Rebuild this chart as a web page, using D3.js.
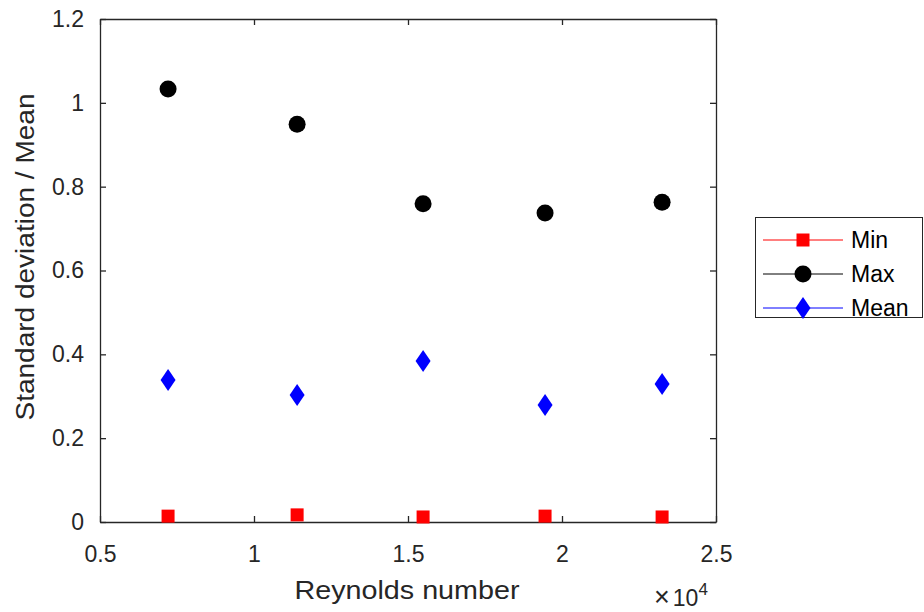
<!DOCTYPE html>
<html>
<head>
<script src="https://d3js.org/d3.v7.min.js"></script>
<style>
body { margin: 0; background: #fff; }
text { font-family: "Liberation Sans", Arial, sans-serif; }
</style>
</head>
<body>
<svg width="924" height="612"></svg>
<script>
// Reynolds number (x1e4) and std/mean values
var reynolds = [0.721, 1.14, 1.549, 1.945, 2.325];
var minVals = [0.014, 0.017, 0.012, 0.014, 0.012];
var maxVals = [1.033, 0.949, 0.759, 0.737, 0.763];
var meanVals = [0.339, 0.303, 0.384, 0.279, 0.329];
var xTicks = [0.5, 1, 1.5, 2, 2.5];
var yTicks = [0, 0.2, 0.4, 0.6, 0.8, 1, 1.2];

var svg = d3.select("svg");
var pLeft = 100, pRight = 716, pTop = 19, pBottom = 522;
var axisColor = "#262626";

var x = d3.scaleLinear().domain([0.5, 2.5]).range([pLeft, pRight]);
var y = d3.scaleLinear().domain([0, 1.2]).range([pBottom, pTop]);

function styleAxis(g, hideText) {
  g.selectAll("path").attr("stroke", axisColor).attr("stroke-width", 1.3);
  g.selectAll("line").attr("stroke", axisColor).attr("stroke-width", 1.3);
  g.selectAll("text").attr("fill", axisColor).style("font-size", "23px");
  if (hideText) g.selectAll("text").remove();
}

var fmt = function(d){ return d3.format("")(d); };

svg.append("g").attr("transform", "translate(0," + pBottom + ")")
  .call(d3.axisBottom(x).tickValues(xTicks).tickFormat(fmt).tickSizeInner(-6).tickSizeOuter(0).tickPadding(24))
  .call(function(g){ styleAxis(g, false); });
svg.append("g").attr("transform", "translate(0," + pTop + ")")
  .call(d3.axisTop(x).tickValues(xTicks).tickSizeInner(-6).tickSizeOuter(0))
  .call(function(g){ styleAxis(g, true); });
svg.append("g").attr("transform", "translate(" + pLeft + ",0)")
  .call(d3.axisLeft(y).tickValues(yTicks).tickFormat(fmt).tickSizeInner(-6).tickSizeOuter(0).tickPadding(16))
  .call(function(g){ styleAxis(g, false); });
svg.append("g").attr("transform", "translate(" + pRight + ",0)")
  .call(d3.axisRight(y).tickValues(yTicks).tickSizeInner(-6).tickSizeOuter(0))
  .call(function(g){ styleAxis(g, true); });

// axis labels
svg.append("text").attr("x", 407).attr("y", 599)
  .attr("text-anchor", "middle").attr("fill", axisColor).style("font-size", "25px")
  .attr("textLength", 225).attr("lengthAdjust", "spacingAndGlyphs")
  .text("Reynolds number");
svg.append("text").attr("transform", "translate(34,257) rotate(-90)")
  .attr("text-anchor", "middle").attr("fill", axisColor).style("font-size", "25px")
  .attr("textLength", 327).attr("lengthAdjust", "spacingAndGlyphs")
  .text("Standard deviation / Mean");

var mult = svg.append("text").attr("x", 654).attr("y", 606)
  .attr("fill", axisColor).style("font-size", "23px");
mult.append("tspan").style("font-size", "27px").text("\u00d7");
mult.append("tspan").attr("dx", 3).text("10");
mult.append("tspan").attr("dy", -11).style("font-size", "17px").text("4");

// markers
var sq = d3.symbol().type(d3.symbolSquare).size(169);
var circ = d3.symbol().type(d3.symbolCircle).size(Math.PI * 8.5 * 8.5);
function diamondPath(w, h) {
  return "M0," + (-h / 2) + "L" + (w / 2) + ",0L0," + (h / 2) + "L" + (-w / 2) + ",0Z";
}

var series = [
  { name: "Min", vals: minVals, color: "#ff0000", path: sq() },
  { name: "Max", vals: maxVals, color: "#000000", path: circ() },
  { name: "Mean", vals: meanVals, color: "#0000ff", path: diamondPath(15, 22) }
];

series.forEach(function(s) {
  svg.append("g").selectAll("path").data(s.vals).enter().append("path")
    .attr("d", s.path)
    .attr("fill", s.color)
    .attr("transform", function(d, i){ return "translate(" + x(reynolds[i]) + "," + y(d) + ")"; });
});

// legend
var lg = svg.append("g");
lg.append("rect").attr("x", 755.5).attr("y", 217.5).attr("width", 167).attr("height", 100)
  .attr("fill", "#fff").attr("stroke", axisColor).attr("stroke-width", 1);
series.forEach(function(s, i) {
  var ly = 240 + i * 34;
  lg.append("line").attr("x1", 763).attr("x2", 843).attr("y1", ly).attr("y2", ly)
    .attr("stroke", s.color).attr("stroke-width", 1);
  lg.append("path").attr("d", s.path).attr("fill", s.color)
    .attr("transform", "translate(803," + ly + ")");
  lg.append("text").attr("x", 851).attr("y", ly + 8).attr("fill", "#000")
    .style("font-size", "23px").text(s.name);
});
</script>
</body>
</html>
